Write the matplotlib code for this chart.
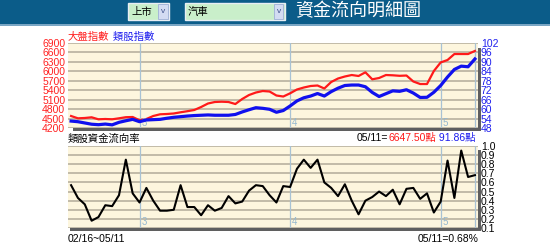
import matplotlib
matplotlib.use("Agg")
import matplotlib.pyplot as plt
from matplotlib.patches import Rectangle

W, H = 550, 252

# 02/16 ~ 05/11, one point per trading day
days = list(range(60))
taiex = [4581, 4508, 4518, 4540, 4476, 4486, 4476, 4508, 4543, 4549,
         4445, 4486, 4581, 4635, 4645, 4661, 4699, 4734, 4772, 4867,
         4978, 5026, 5035, 5026, 4962, 5121, 5248, 5327, 5375, 5359,
         5232, 5200, 5302, 5423, 5486, 5534, 5550, 5455, 5661, 5772,
         5836, 5883, 5852, 5969, 5747, 5788, 5883, 5874, 5858, 5867,
         5677, 5597, 5597, 6010, 6283, 6360, 6550, 6550, 6550, 6647.5]
sector = [52.4, 52.0, 51.2, 50.4, 50.1, 50.5, 50.0, 51.6, 52.6, 53.5,
          52.0, 53.1, 53.3, 53.5, 54.2, 54.8, 55.2, 55.6, 55.9, 56.1,
          56.3, 56.1, 56.1, 56.1, 56.6, 58.2, 59.6, 60.9, 60.5, 59.9,
          58.0, 59.1, 62.0, 65.2, 67.2, 68.3, 69.9, 68.3, 71.1, 73.3,
          75.0, 75.3, 75.3, 74.2, 70.6, 68.0, 69.8, 71.6, 71.3, 72.3,
          70.2, 67.4, 67.5, 70.7, 75.0, 80.4, 85.2, 87.3, 86.9, 91.86]
flow = [0.57, 0.43, 0.36, 0.18, 0.22, 0.35, 0.34, 0.46, 0.85, 0.48,
        0.38, 0.54, 0.40, 0.29, 0.29, 0.30, 0.57, 0.33, 0.33, 0.24,
        0.35, 0.29, 0.32, 0.45, 0.37, 0.39, 0.51, 0.57, 0.56, 0.46,
        0.38, 0.56, 0.55, 0.75, 0.85, 0.76, 0.85, 0.60, 0.54, 0.45,
        0.58, 0.40, 0.25, 0.40, 0.44, 0.50, 0.45, 0.52, 0.36, 0.53,
        0.54, 0.42, 0.48, 0.27, 0.39, 0.84, 0.43, 0.95, 0.66, 0.68]
month_pos = [10, 32, 54]
month_lbl = ["3", "4", "5"]

left_ticks = list(range(4200, 7000, 300))
right_ticks = list(range(48, 103, 6))
flow_ticks = [k / 10 for k in range(1, 11)]

plt.rcParams['font.family'] = ['Liberation Sans', 'Noto Sans CJK TC']

BG = '#fdf6de'
GRID = '#bdb6a4'
VLINE = '#a8c2d4'
SHADOW = '#5f5f5f'

fig = plt.figure(figsize=(W / 100, H / 100), dpi=100)


def box(x0, y0, x1, y1):
    return [x0 / W, 1 - y1 / H, (x1 - x0) / W, (y1 - y0) / H]


def rect(x0, y0, x1, y1, **kw):
    fig.patches.append(Rectangle((x0 / W, 1 - y1 / H), (x1 - x0) / W, (y1 - y0) / H,
                                 transform=fig.transFigure, **kw))


def ftext(x, y, s, **kw):
    return fig.text(x / W, 1 - y / H, s, **kw)


def seq_text(x, y, parts, size):
    r = fig.canvas.get_renderer()
    for s, c in parts:
        t = ftext(x, y, s, color=c, fontsize=size, va='center')
        x += t.get_window_extent(r).width


# header bar
rect(0, 0, 550, 24, color='#0b5c89', lw=0)
rect(0, 24, 550, 25.5, color='#7aa6c4', lw=0)
for x0, x1, label in [(128, 169, '上市'), (185, 285, '汽車')]:
    rect(x0, 3, x1, 20, facecolor='#c9efca', edgecolor='#e8eef4', lw=1)
    rect(x1 - 11, 4.5, x1 - 1.5, 18.5, facecolor='#d3dcf2', edgecolor='#9fb0d8', lw=0.6)
    ftext(x1 - 6.3, 11.5, 'v', color='#3a4f8a', fontsize=6, ha='center', va='center')
    ftext(x0 + 3, 11.5, label, color='black', fontsize=7.5, va='center')
ftext(295, 12, '資金流向明細圖', color='white', fontsize=13, va='center')

# shadows
rect(73, 128, 481, 131, color=SHADOW, lw=0)
rect(478, 48, 481, 131, color=SHADOW, lw=0)
rect(70, 228, 481, 231, color=SHADOW, lw=0)
rect(478, 150, 481, 231, color=SHADOW, lw=0)

# top chart
ax1 = fig.add_axes(box(68, 43, 478, 128))
ax1.set_facecolor(BG)
ax1.set_xlim(-0.45, 59.45)
ax1.set_ylim(4200, 6900)
ax1.set_yticks(left_ticks)
ax1.grid(axis='y', color=GRID, lw=1.3)
ax1.set_xticks([])
ax1.tick_params(axis='y', length=0, pad=2, labelsize=7.5, labelcolor='#ff2020')
for v in month_pos + [days[-1]]:
    ax1.axvline(v, color=VLINE, lw=0.9)
for v, s in zip(month_pos, month_lbl):
    ax1.text(v + 0.25, 4215, s, color='#95b8cf', fontsize=7, va='bottom')
ax1.plot(days, taiex, color='#ff1a1a', lw=1.6, solid_joinstyle='round')
for sp in ax1.spines.values():
    sp.set_visible(False)

ax1b = ax1.twinx()
ax1b.set_ylim(48, 102)
ax1b.set_yticks(right_ticks)
ax1b.tick_params(axis='y', length=0, pad=2, labelsize=7.5, labelcolor='#2020ee')
ax1b.plot(days, sector, color='#1010ee', lw=2.3, solid_joinstyle='round')
for sp in ax1b.spines.values():
    sp.set_visible(False)

# bottom chart
ax2 = fig.add_axes(box(68, 146, 478, 228))
ax2.set_facecolor(BG)
ax2.set_xlim(-0.45, 59.45)
ax2.set_ylim(0.1, 1.0)
ax2.set_yticks(flow_ticks)
ax2.set_yticklabels([f'{v:.1f}' for v in flow_ticks])
ax2.yaxis.tick_right()
ax2.grid(axis='y', color=GRID, lw=1.3)
ax2.set_xticks([])
ax2.tick_params(axis='y', length=0, pad=2, labelsize=7.5, labelcolor='black')
for v in month_pos + [days[-1]]:
    ax2.axvline(v, color=VLINE, lw=0.9)
for v, s in zip(month_pos, month_lbl):
    ax2.text(v + 0.25, 0.11, s, color='#95b8cf', fontsize=7, va='bottom')
ax2.plot(days, flow, color='black', lw=1.5, solid_joinstyle='round')
for sp in ax2.spines.values():
    sp.set_visible(False)

# texts
seq_text(68, 37, [('大盤指數', '#ff1a1a'), (' 類股指數', '#1a1aee')], 7.5)
ftext(68, 139, '類股資金流向率', color='black', fontsize=7.5, va='center')
seq_text(357, 138, [('05/11=', 'black'), (f'{taiex[-1]:.2f}點', '#ff1a1a'),
                    (f' {sector[-1]:.2f}點', '#1a1aee')], 7.5)
ftext(68, 239, '02/16~05/11', color='black', fontsize=7.5, va='center')
ftext(478, 239, f'05/11={flow[-1]:.2f}%', color='black', fontsize=7.5,
      va='center', ha='right')

fig.savefig('out.png', dpi=100, facecolor='white')
